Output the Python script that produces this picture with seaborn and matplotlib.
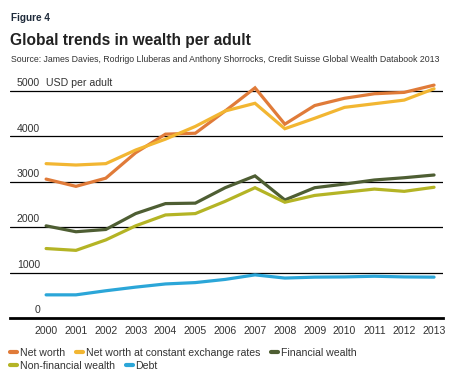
import pandas as pd
import matplotlib.pyplot as plt
import matplotlib.transforms as mtransforms
from matplotlib.lines import Line2D
import seaborn as sns

years = list(range(2000, 2014))
net_worth = [3060, 2900, 3080, 3640, 4050, 4070, 4560, 5070, 4270, 4680, 4840, 4940, 4970, 5130]
net_worth_const = [3400, 3370, 3400, 3700, 3940, 4220, 4560, 4730, 4170, 4400, 4640, 4720, 4800, 5050]
financial = [2030, 1900, 1950, 2300, 2520, 2530, 2870, 3130, 2600, 2870, 2950, 3040, 3090, 3150]
non_financial = [1530, 1490, 1720, 2030, 2270, 2300, 2570, 2870, 2550, 2700, 2770, 2840, 2790, 2880]
debt = [510, 510, 600, 680, 750, 780, 850, 950, 880, 900, 905, 920, 905, 900]

series_names = ["Net worth", "Net worth at constant exchange rates", "Financial wealth",
                "Non-financial wealth", "Debt"]
colors = ["#E07B39", "#F2B632", "#4E5E33", "#B4B425", "#2BA6D8"]
yticks = [0, 1000, 2000, 3000, 4000, 5000]

df = pd.DataFrame({"year": years, series_names[0]: net_worth, series_names[1]: net_worth_const,
                   series_names[2]: financial, series_names[3]: non_financial, series_names[4]: debt})
long = df.melt(id_vars="year", var_name="series", value_name="value")

sns.set_style("white")
plt.rcParams["font.family"] = ["Liberation Sans", "DejaVu Sans"]
text_col = "#333333"

fig = plt.figure(figsize=(4.6, 3.82), dpi=100)
ax = fig.add_axes([10 / 460, 64 / 382, 433 / 460, 240.6 / 382])

sns.lineplot(data=long, x="year", y="value", hue="series", hue_order=series_names,
             palette=colors, linewidth=2.3, legend=False, ax=ax)
for line in ax.lines:
    line.set_solid_capstyle("round")
    line.set_solid_joinstyle("miter")

ax.set_xlim(1998.79, 2013.30)
ax.set_ylim(0, 5300)
ax.set_xticks(years)
ax.set_xticklabels([str(y) for y in years], fontsize=7.6, color=text_col)
ax.set_yticks(yticks)
ax.set_yticklabels([])
ax.tick_params(axis="x", direction="out", length=2.5, width=1.2, color="black", pad=3)
ax.tick_params(axis="y", length=0)
ax.set_xlabel("")
ax.set_ylabel("")
for s in ["top", "right", "left"]:
    ax.spines[s].set_visible(False)
ax.spines["bottom"].set_linewidth(2)
ax.spines["bottom"].set_color("black")

for t in yticks[1:]:
    ax.axhline(t, color="black", linewidth=0.9, zorder=0)

trans = mtransforms.blended_transform_factory(fig.transFigure, ax.transData)
for t in yticks:
    ax.text(40 / 460, t + 60, str(t), transform=trans, ha="right", va="bottom",
            fontsize=7.6, color=text_col)
ax.text(46 / 460, 5060, "USD per adult", transform=trans, ha="left", va="bottom",
        fontsize=7.6, color=text_col)

fig.text(11 / 460, 1 - 18 / 382, "Figure 4", fontsize=7.2, fontweight="bold",
         color="#1e2a3a", va="center")
fig.text(10 / 460, 1 - 40 / 382, "Global trends in wealth per adult", fontsize=11.2,
         fontweight="bold", color="#222222", va="center")
fig.text(11 / 460, 1 - 60 / 382,
         "Source: James Davies, Rodrigo Lluberas and Anthony Shorrocks, Credit Suisse Global Wealth Databook 2013",
         fontsize=6.3, color=text_col, va="center")

handles = [Line2D([0], [0], color=c, linewidth=3, solid_capstyle="round") for c in colors]
leg_kw = dict(frameon=False, fontsize=7.6, handlelength=0.7, handletextpad=0.25,
              columnspacing=1.0, borderpad=0, borderaxespad=0, labelcolor=text_col)
leg1 = fig.legend(handles[:3], series_names[:3], loc="center left", ncol=3,
                  bbox_to_anchor=(10 / 460, 1 - 353 / 382), **leg_kw)
leg2 = fig.legend(handles[3:], series_names[3:], loc="center left", ncol=2,
                  bbox_to_anchor=(10 / 460, 1 - 366 / 382), **leg_kw)

fig.savefig("out.png", dpi=100)
